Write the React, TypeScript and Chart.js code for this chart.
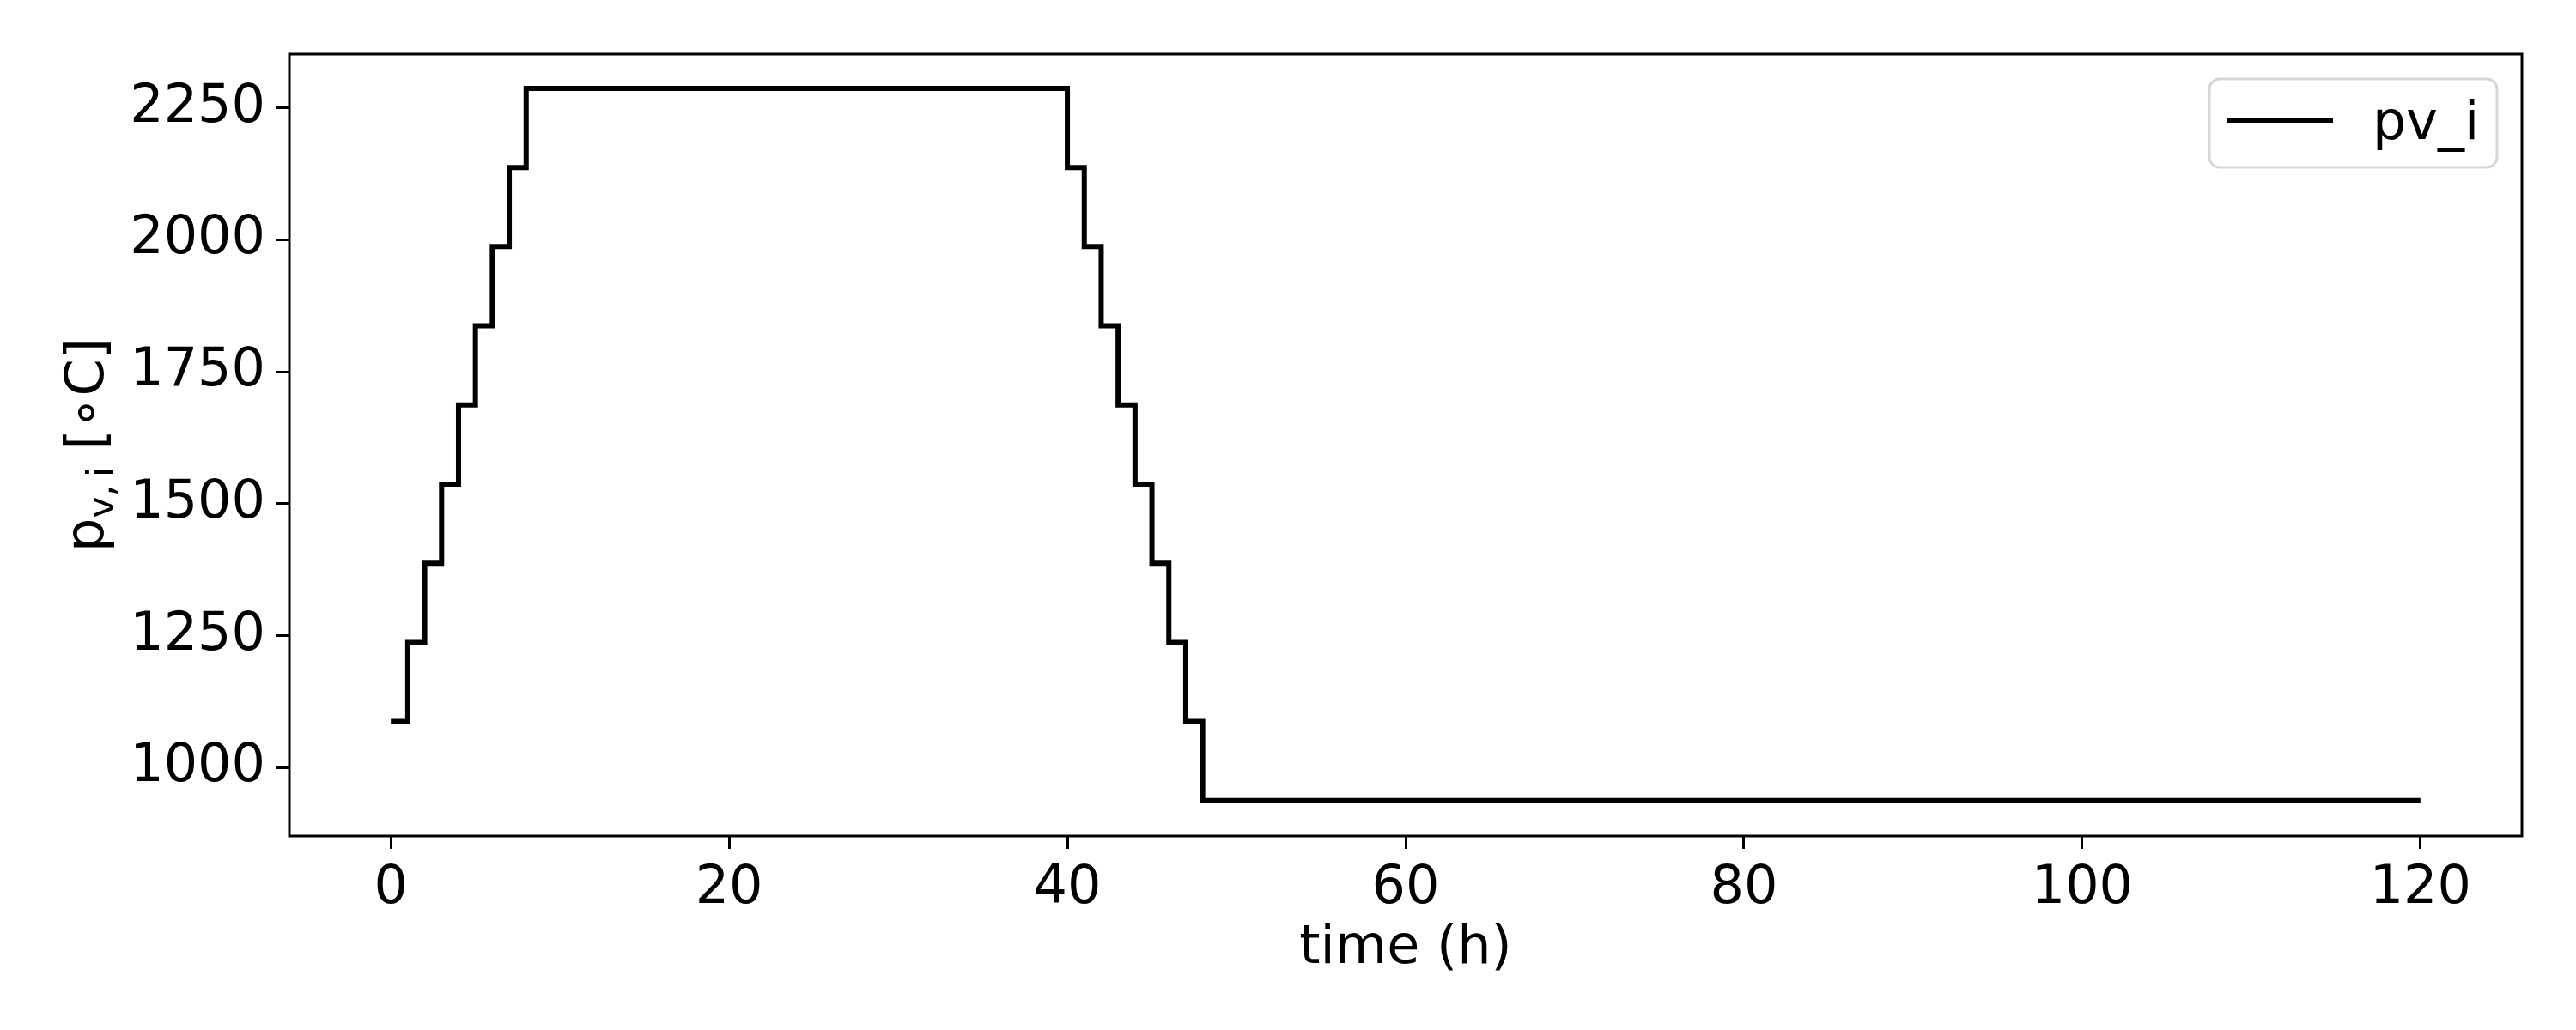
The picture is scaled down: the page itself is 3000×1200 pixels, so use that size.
import React, { useEffect, useRef } from 'react';
import { Chart, registerables } from 'chart.js';

Chart.register(...registerables);

// step series (value holds from each time until the next)
const stepTimes = [0, 1, 2, 3, 4, 5, 6, 7, 8, 40, 41, 42, 43, 44, 45, 46, 47, 48, 120];
const pvI = [1087, 1237, 1387, 1537, 1687, 1837, 1987, 2137, 2287, 2137, 1987, 1837, 1687, 1537, 1387, 1237, 1087, 937, 937];

const xTicks = [0, 20, 40, 60, 80, 100, 120];
const yTicks = [1000, 1250, 1500, 1750, 2000, 2250];

const seriesLabel = 'pv_i';
const xTitle = 'time (h)';
const yTitleMain = 'p';
const yTitleSub = 'v,\u2009i';
const yTitleUnit = ' [\u2218C]';

const FONT = '"DejaVu Sans", sans-serif';

const decorPlugin = {
  id: 'decor',
  afterDraw(chart: any) {
    const { ctx, chartArea: a } = chart;
    ctx.save();

    // axes frame
    ctx.strokeStyle = '#000';
    ctx.lineWidth = 3;
    ctx.strokeRect(a.left, a.top, a.right - a.left, a.bottom - a.top);

    // y title with subscript
    ctx.save();
    ctx.translate(120, (a.top + a.bottom) / 2);
    ctx.rotate(-Math.PI / 2);
    ctx.fillStyle = '#000';
    ctx.textBaseline = 'alphabetic';
    ctx.textAlign = 'left';
    const big = `62px ${FONT}`;
    const small = `43px ${FONT}`;
    ctx.font = big;
    const wMain = ctx.measureText(yTitleMain).width;
    const wUnit = ctx.measureText(yTitleUnit).width;
    ctx.font = small;
    const wSub = ctx.measureText(yTitleSub).width;
    let x = -(wMain + wSub + wUnit) / 2;
    ctx.font = big;
    ctx.fillText(yTitleMain, x, 0);
    x += wMain;
    ctx.font = small;
    ctx.fillText(yTitleSub, x, 12);
    x += wSub;
    ctx.font = big;
    ctx.fillText(yTitleUnit, x, 0);
    ctx.restore();

    // legend
    const bx = 2573, by = 92, bw = 335, bh = 103;
    ctx.beginPath();
    if (ctx.roundRect) ctx.roundRect(bx, by, bw, bh, 12);
    else ctx.rect(bx, by, bw, bh);
    ctx.fillStyle = 'rgba(255,255,255,0.8)';
    ctx.fill();
    ctx.strokeStyle = '#d6d6d6';
    ctx.lineWidth = 3;
    ctx.stroke();

    ctx.beginPath();
    ctx.moveTo(2593, 140);
    ctx.lineTo(2717, 140);
    ctx.strokeStyle = '#000';
    ctx.lineWidth = 6;
    ctx.stroke();

    ctx.fillStyle = '#000';
    ctx.font = `62px ${FONT}`;
    ctx.textAlign = 'left';
    ctx.textBaseline = 'alphabetic';
    ctx.fillText(seriesLabel, 2763, 162);

    ctx.restore();
  },
};

const App: React.FC = () => {
  const chartRef = useRef<HTMLCanvasElement>(null);
  const chartInstance = useRef<Chart | null>(null);

  useEffect(() => {
    if (!chartRef.current) return;
    const ctx = chartRef.current.getContext('2d');
    if (!ctx) return;

    Chart.defaults.font.family = FONT;
    Chart.defaults.color = '#000';

    const points = stepTimes.map((t, i) => ({ x: t, y: pvI[i] }));

    chartInstance.current = new Chart(ctx, {
      type: 'line',
      data: {
        datasets: [
          {
            label: seriesLabel,
            data: points,
            borderColor: '#000',
            backgroundColor: '#000',
            borderWidth: 6,
            pointRadius: 0,
            stepped: 'before',
            fill: false,
          },
        ],
      },
      options: {
        animation: false,
        responsive: false,
        devicePixelRatio: 1,
        layout: { padding: { left: 0, top: 63, right: 63, bottom: 0 } },
        plugins: {
          legend: { display: false },
          tooltip: { enabled: false },
        },
        scales: {
          x: {
            type: 'linear',
            min: -6,
            max: 126,
            afterBuildTicks: (s: any) => {
              s.ticks = xTicks.map((v) => ({ value: v }));
            },
            afterFit: (s: any) => {
              s.height = 226;
            },
            grid: {
              display: true,
              drawOnChartArea: false,
              drawTicks: true,
              tickLength: 15,
              tickWidth: 3,
              tickColor: '#000',
            },
            border: { display: false },
            ticks: {
              font: { size: 62 },
              color: '#000',
              padding: 10,
              maxRotation: 0,
              autoSkip: false,
              callback: (v: any) => String(v),
            },
            title: {
              display: true,
              text: xTitle,
              font: { size: 62 },
              color: '#000',
              padding: { top: 0, bottom: 57 },
            },
          },
          y: {
            type: 'linear',
            min: 870,
            max: 2352,
            afterBuildTicks: (s: any) => {
              s.ticks = yTicks.map((v) => ({ value: v }));
            },
            afterFit: (s: any) => {
              s.width = 337;
            },
            grid: {
              display: true,
              drawOnChartArea: false,
              drawTicks: true,
              tickLength: 15,
              tickWidth: 3,
              tickColor: '#000',
            },
            border: { display: false },
            ticks: {
              font: { size: 62 },
              color: '#000',
              padding: 13,
              autoSkip: false,
              callback: (v: any) => String(v),
            },
          },
        },
      },
      plugins: [decorPlugin],
    });

    return () => {
      if (chartInstance.current) {
        chartInstance.current.destroy();
        chartInstance.current = null;
      }
    };
  }, []);

  return (
    <div style={{ position: 'absolute', left: 0, top: 0, width: 3000, height: 1200, background: '#fff' }}>
      <canvas ref={chartRef} width={3000} height={1200} style={{ width: 3000, height: 1200 }} />
    </div>
  );
};

export default App;
